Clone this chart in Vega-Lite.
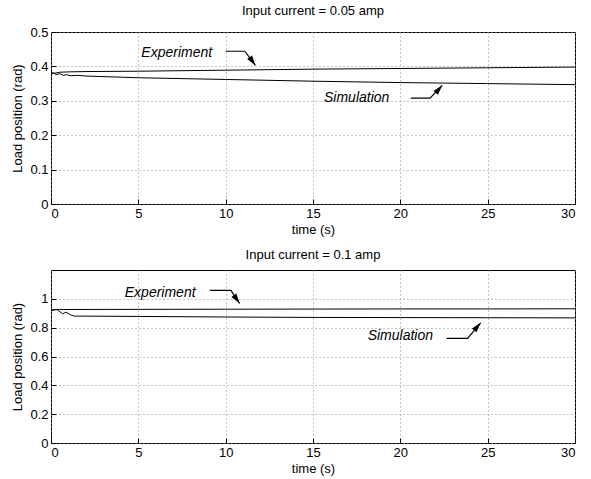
{
  "$schema": "https://vega.github.io/schema/vega-lite/v6.json",
  "background": "white",
  "padding": {"left": 11, "top": 4, "right": 12, "bottom": 4},
  "spacing": 11,
  "config": {
    "font": "Liberation Sans",
    "view": {"stroke": "black", "strokeWidth": 1},
    "axis": {
      "labelFont": "Liberation Sans", "labelFontSize": 13, "labelColor": "black",
      "titleFont": "Liberation Sans", "titleFontSize": 13, "titleFontWeight": "normal", "titleColor": "black",
      "domain": false, "tickColor": "black", "tickSize": -5, "tickCount": 20,
      "gridColor": "#888", "gridDash": [1, 3], "gridWidth": 1, "gridOpacity": 1,
      "labelPadding": 8, "labelOverlap": false
    },
    "title": {"font": "Liberation Sans", "fontSize": 13, "fontWeight": "normal", "color": "black", "offset": 8}
  },
  "datasets": {
    "top": [
      {"series": "Experiment", "t": 0, "y": 0.382},
      {"series": "Experiment", "t": 0.2, "y": 0.380},
      {"series": "Experiment", "t": 0.5, "y": 0.383},
      {"series": "Experiment", "t": 1, "y": 0.384},
      {"series": "Experiment", "t": 2, "y": 0.385},
      {"series": "Experiment", "t": 5, "y": 0.386},
      {"series": "Experiment", "t": 10, "y": 0.389},
      {"series": "Experiment", "t": 15, "y": 0.392},
      {"series": "Experiment", "t": 20, "y": 0.394},
      {"series": "Experiment", "t": 25, "y": 0.396},
      {"series": "Experiment", "t": 30, "y": 0.398},
      {"series": "Simulation", "t": 0, "y": 0.378},
      {"series": "Simulation", "t": 0.15, "y": 0.381},
      {"series": "Simulation", "t": 0.3, "y": 0.376},
      {"series": "Simulation", "t": 0.5, "y": 0.379},
      {"series": "Simulation", "t": 0.7, "y": 0.374},
      {"series": "Simulation", "t": 0.9, "y": 0.376},
      {"series": "Simulation", "t": 1.1, "y": 0.373},
      {"series": "Simulation", "t": 1.5, "y": 0.374},
      {"series": "Simulation", "t": 2, "y": 0.372},
      {"series": "Simulation", "t": 5, "y": 0.367},
      {"series": "Simulation", "t": 10, "y": 0.362},
      {"series": "Simulation", "t": 15, "y": 0.357},
      {"series": "Simulation", "t": 20, "y": 0.353},
      {"series": "Simulation", "t": 25, "y": 0.350},
      {"series": "Simulation", "t": 30, "y": 0.347}
    ],
    "bot": [
      {"series": "Experiment", "t": 0, "y": 0.920},
      {"series": "Experiment", "t": 0.2, "y": 0.925},
      {"series": "Experiment", "t": 0.5, "y": 0.926},
      {"series": "Experiment", "t": 5, "y": 0.927},
      {"series": "Experiment", "t": 10, "y": 0.928},
      {"series": "Experiment", "t": 15, "y": 0.929},
      {"series": "Experiment", "t": 20, "y": 0.930},
      {"series": "Experiment", "t": 25, "y": 0.930},
      {"series": "Experiment", "t": 30, "y": 0.931},
      {"series": "Simulation", "t": 0, "y": 0.919},
      {"series": "Simulation", "t": 0.34, "y": 0.926},
      {"series": "Simulation", "t": 0.67, "y": 0.896},
      {"series": "Simulation", "t": 0.86, "y": 0.908},
      {"series": "Simulation", "t": 1.1, "y": 0.890},
      {"series": "Simulation", "t": 1.34, "y": 0.880},
      {"series": "Simulation", "t": 2, "y": 0.880},
      {"series": "Simulation", "t": 5, "y": 0.878},
      {"series": "Simulation", "t": 10, "y": 0.874},
      {"series": "Simulation", "t": 15, "y": 0.871},
      {"series": "Simulation", "t": 20, "y": 0.870},
      {"series": "Simulation", "t": 25, "y": 0.869},
      {"series": "Simulation", "t": 30, "y": 0.868}
    ],
    "topLabels": [
      {"label": "Experiment", "t": 7.2, "y": 0.438},
      {"label": "Simulation", "t": 17.5, "y": 0.307}
    ],
    "botLabels": [
      {"label": "Experiment", "t": 6.25, "y": 1.04},
      {"label": "Simulation", "t": 20.0, "y": 0.741}
    ],
    "topArrows": [
      {"arrow": "Experiment", "k": 1, "t": 10.0, "y": 0.444},
      {"arrow": "Experiment", "k": 2, "t": 11.1, "y": 0.444},
      {"arrow": "Experiment", "k": 3, "t": 11.7, "y": 0.403},
      {"arrow": "Simulation", "k": 1, "t": 20.6, "y": 0.308},
      {"arrow": "Simulation", "k": 2, "t": 21.7, "y": 0.308},
      {"arrow": "Simulation", "k": 3, "t": 22.4, "y": 0.345}
    ],
    "botArrows": [
      {"arrow": "Experiment", "k": 1, "t": 9.1, "y": 1.058},
      {"arrow": "Experiment", "k": 2, "t": 10.3, "y": 1.058},
      {"arrow": "Experiment", "k": 3, "t": 10.8, "y": 0.968},
      {"arrow": "Simulation", "k": 1, "t": 22.65, "y": 0.726},
      {"arrow": "Simulation", "k": 2, "t": 23.85, "y": 0.726},
      {"arrow": "Simulation", "k": 3, "t": 24.6, "y": 0.834}
    ]
  },
  "vconcat": [
    {
      "title": "Input current = 0.05 amp",
      "width": 524,
      "height": 172,
      "layer": [
        {
          "data": {"name": "top"},
          "mark": {"type": "line", "color": "black", "strokeWidth": 1},
          "encoding": {
            "x": {"field": "t", "type": "quantitative", "scale": {"domain": [0, 30], "nice": false},
                  "axis": {"values": [0, 5, 10, 15, 20, 25, 30], "title": "time (s)", "titlePadding": 3}},
            "y": {"field": "y", "type": "quantitative", "scale": {"domain": [0, 0.5], "nice": false},
                  "axis": {"values": [0, 0.1, 0.2, 0.3, 0.4, 0.5], "labelExpr": "format(datum.value, '~g')", "title": "Load position (rad)", "titlePadding": 5}},
            "detail": {"field": "series"}
          }
        },
        {
          "data": {"name": "topArrows"},
          "mark": {"type": "line", "color": "black", "strokeWidth": 1.2},
          "encoding": {
            "x": {"field": "t", "type": "quantitative"},
            "y": {"field": "y", "type": "quantitative"},
            "detail": {"field": "arrow"},
            "order": {"field": "k"}
          }
        },
        {
          "data": {"name": "topArrows"},
          "transform": [{"filter": "datum.k == 3 && datum.arrow == 'Experiment'"}],
          "mark": {"type": "point", "shape": "M0,0L-0.6,2L0.6,2Z", "filled": true, "color": "black", "opacity": 1, "size": 100, "angle": 145},
          "encoding": {
            "x": {"field": "t", "type": "quantitative"},
            "y": {"field": "y", "type": "quantitative"}
          }
        },
        {
          "data": {"name": "topArrows"},
          "transform": [{"filter": "datum.k == 3 && datum.arrow == 'Simulation'"}],
          "mark": {"type": "point", "shape": "M0,0L-0.6,2L0.6,2Z", "filled": true, "color": "black", "opacity": 1, "size": 100, "angle": 41},
          "encoding": {
            "x": {"field": "t", "type": "quantitative"},
            "y": {"field": "y", "type": "quantitative"}
          }
        },
        {
          "data": {"name": "topLabels"},
          "mark": {"type": "text", "font": "Liberation Sans", "fontSize": 14, "fontStyle": "italic", "color": "black"},
          "encoding": {
            "x": {"field": "t", "type": "quantitative"},
            "y": {"field": "y", "type": "quantitative"},
            "text": {"field": "label"}
          }
        }
      ]
    },
    {
      "title": "Input current = 0.1 amp",
      "width": 524,
      "height": 173,
      "layer": [
        {
          "data": {"name": "bot"},
          "mark": {"type": "line", "color": "black", "strokeWidth": 1},
          "encoding": {
            "x": {"field": "t", "type": "quantitative", "scale": {"domain": [0, 30], "nice": false},
                  "axis": {"values": [0, 5, 10, 15, 20, 25, 30], "title": "time (s)", "titlePadding": 3}},
            "y": {"field": "y", "type": "quantitative", "scale": {"domain": [0, 1.2], "nice": false},
                  "axis": {"values": [0, 0.2, 0.4, 0.6, 0.8, 1], "labelExpr": "format(datum.value, '~g')", "title": "Load position (rad)", "titlePadding": 5}},
            "detail": {"field": "series"}
          }
        },
        {
          "data": {"name": "botArrows"},
          "mark": {"type": "line", "color": "black", "strokeWidth": 1.2},
          "encoding": {
            "x": {"field": "t", "type": "quantitative"},
            "y": {"field": "y", "type": "quantitative"},
            "detail": {"field": "arrow"},
            "order": {"field": "k"}
          }
        },
        {
          "data": {"name": "botArrows"},
          "transform": [{"filter": "datum.k == 3 && datum.arrow == 'Experiment'"}],
          "mark": {"type": "point", "shape": "M0,0L-0.6,2L0.6,2Z", "filled": true, "color": "black", "opacity": 1, "size": 100, "angle": 145},
          "encoding": {
            "x": {"field": "t", "type": "quantitative"},
            "y": {"field": "y", "type": "quantitative"}
          }
        },
        {
          "data": {"name": "botArrows"},
          "transform": [{"filter": "datum.k == 3 && datum.arrow == 'Simulation'"}],
          "mark": {"type": "point", "shape": "M0,0L-0.6,2L0.6,2Z", "filled": true, "color": "black", "opacity": 1, "size": 100, "angle": 40},
          "encoding": {
            "x": {"field": "t", "type": "quantitative"},
            "y": {"field": "y", "type": "quantitative"}
          }
        },
        {
          "data": {"name": "botLabels"},
          "mark": {"type": "text", "font": "Liberation Sans", "fontSize": 14, "fontStyle": "italic", "color": "black"},
          "encoding": {
            "x": {"field": "t", "type": "quantitative"},
            "y": {"field": "y", "type": "quantitative"},
            "text": {"field": "label"}
          }
        }
      ]
    }
  ]
}
